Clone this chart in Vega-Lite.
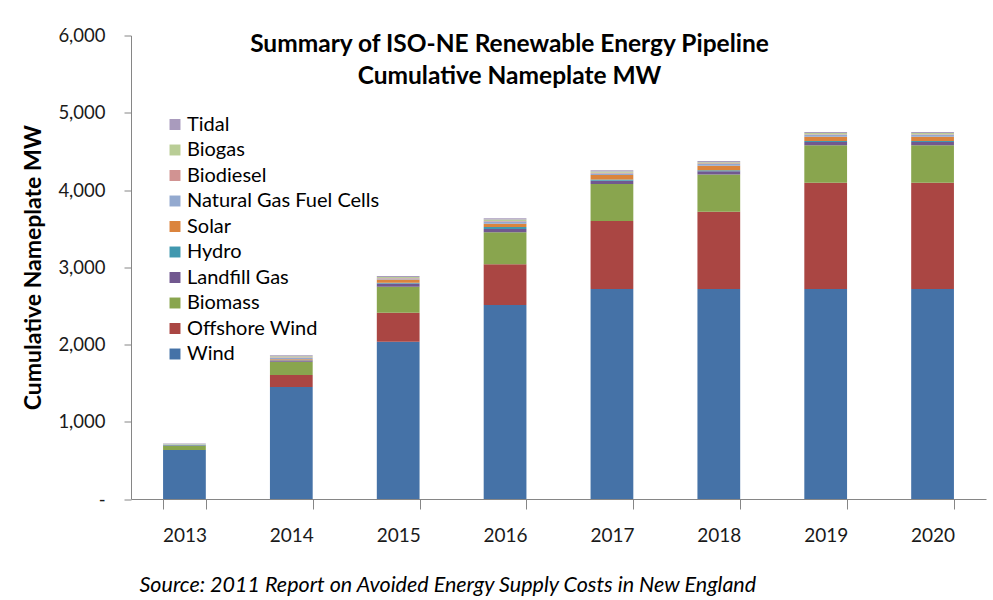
{
  "$schema": "https://vega.github.io/schema/vega-lite/v6.json",
  "width": 855,
  "height": 463.5,
  "autosize": {"type": "none"},
  "padding": {"left": 131, "top": 35.5, "right": 7, "bottom": 101},
  "background": "white",
  "config": {
    "view": {"stroke": null},
    "font": "Lato"
  },
  "title": {
    "text": ["Summary of ISO-NE Renewable Energy Pipeline", "Cumulative Nameplate MW"],
    "font": "Lato",
    "fontSize": 24.5,
    "fontWeight": "bold",
    "color": "#000000",
    "anchor": "middle",
    "frame": "group",
    "baseline": "alphabetic",
    "lineHeight": 32,
    "offset": -82,
    "dx": -49
  },
  "data": {
    "values": [
      {"year": "2013", "source": "Wind", "mw": 634},
      {"year": "2013", "source": "Offshore Wind", "mw": 0},
      {"year": "2013", "source": "Biomass", "mw": 56},
      {"year": "2013", "source": "Landfill Gas", "mw": 5},
      {"year": "2013", "source": "Hydro", "mw": 3},
      {"year": "2013", "source": "Solar", "mw": 2},
      {"year": "2013", "source": "Natural Gas Fuel Cells", "mw": 5},
      {"year": "2013", "source": "Biodiesel", "mw": 2},
      {"year": "2013", "source": "Biogas", "mw": 6},
      {"year": "2013", "source": "Tidal", "mw": 5},
      {"year": "2014", "source": "Wind", "mw": 1450},
      {"year": "2014", "source": "Offshore Wind", "mw": 155},
      {"year": "2014", "source": "Biomass", "mw": 172},
      {"year": "2014", "source": "Landfill Gas", "mw": 15},
      {"year": "2014", "source": "Hydro", "mw": 5},
      {"year": "2014", "source": "Solar", "mw": 13},
      {"year": "2014", "source": "Natural Gas Fuel Cells", "mw": 20},
      {"year": "2014", "source": "Biodiesel", "mw": 5},
      {"year": "2014", "source": "Biogas", "mw": 13},
      {"year": "2014", "source": "Tidal", "mw": 12},
      {"year": "2015", "source": "Wind", "mw": 2036},
      {"year": "2015", "source": "Offshore Wind", "mw": 375},
      {"year": "2015", "source": "Biomass", "mw": 337},
      {"year": "2015", "source": "Landfill Gas", "mw": 43},
      {"year": "2015", "source": "Hydro", "mw": 8},
      {"year": "2015", "source": "Solar", "mw": 43},
      {"year": "2015", "source": "Natural Gas Fuel Cells", "mw": 13},
      {"year": "2015", "source": "Biodiesel", "mw": 6},
      {"year": "2015", "source": "Biogas", "mw": 13},
      {"year": "2015", "source": "Tidal", "mw": 13},
      {"year": "2016", "source": "Wind", "mw": 2511},
      {"year": "2016", "source": "Offshore Wind", "mw": 527},
      {"year": "2016", "source": "Biomass", "mw": 414},
      {"year": "2016", "source": "Landfill Gas", "mw": 43},
      {"year": "2016", "source": "Hydro", "mw": 25},
      {"year": "2016", "source": "Solar", "mw": 43},
      {"year": "2016", "source": "Natural Gas Fuel Cells", "mw": 30},
      {"year": "2016", "source": "Biodiesel", "mw": 7},
      {"year": "2016", "source": "Biogas", "mw": 17},
      {"year": "2016", "source": "Tidal", "mw": 17},
      {"year": "2017", "source": "Wind", "mw": 2718},
      {"year": "2017", "source": "Offshore Wind", "mw": 880},
      {"year": "2017", "source": "Biomass", "mw": 479},
      {"year": "2017", "source": "Landfill Gas", "mw": 43},
      {"year": "2017", "source": "Hydro", "mw": 17},
      {"year": "2017", "source": "Solar", "mw": 56},
      {"year": "2017", "source": "Natural Gas Fuel Cells", "mw": 22},
      {"year": "2017", "source": "Biodiesel", "mw": 8},
      {"year": "2017", "source": "Biogas", "mw": 17},
      {"year": "2017", "source": "Tidal", "mw": 17},
      {"year": "2018", "source": "Wind", "mw": 2718},
      {"year": "2018", "source": "Offshore Wind", "mw": 1000},
      {"year": "2018", "source": "Biomass", "mw": 483},
      {"year": "2018", "source": "Landfill Gas", "mw": 43},
      {"year": "2018", "source": "Hydro", "mw": 13},
      {"year": "2018", "source": "Solar", "mw": 56},
      {"year": "2018", "source": "Natural Gas Fuel Cells", "mw": 25},
      {"year": "2018", "source": "Biodiesel", "mw": 8},
      {"year": "2018", "source": "Biogas", "mw": 14},
      {"year": "2018", "source": "Tidal", "mw": 14},
      {"year": "2019", "source": "Wind", "mw": 2718},
      {"year": "2019", "source": "Offshore Wind", "mw": 1376},
      {"year": "2019", "source": "Biomass", "mw": 484},
      {"year": "2019", "source": "Landfill Gas", "mw": 43},
      {"year": "2019", "source": "Hydro", "mw": 13},
      {"year": "2019", "source": "Solar", "mw": 56},
      {"year": "2019", "source": "Natural Gas Fuel Cells", "mw": 25},
      {"year": "2019", "source": "Biodiesel", "mw": 8},
      {"year": "2019", "source": "Biogas", "mw": 14},
      {"year": "2019", "source": "Tidal", "mw": 14},
      {"year": "2020", "source": "Wind", "mw": 2718},
      {"year": "2020", "source": "Offshore Wind", "mw": 1376},
      {"year": "2020", "source": "Biomass", "mw": 484},
      {"year": "2020", "source": "Landfill Gas", "mw": 43},
      {"year": "2020", "source": "Hydro", "mw": 13},
      {"year": "2020", "source": "Solar", "mw": 56},
      {"year": "2020", "source": "Natural Gas Fuel Cells", "mw": 25},
      {"year": "2020", "source": "Biodiesel", "mw": 8},
      {"year": "2020", "source": "Biogas", "mw": 14},
      {"year": "2020", "source": "Tidal", "mw": 14}
    ]
  },
  "transform": [
    {"calculate": "indexof(['Wind', 'Offshore Wind', 'Biomass', 'Landfill Gas', 'Hydro', 'Solar', 'Natural Gas Fuel Cells', 'Biodiesel', 'Biogas', 'Tidal'], datum.source)", "as": "stackOrder"}
  ],
  "mark": {"type": "bar"},
  "encoding": {
    "x": {
      "field": "year",
      "type": "ordinal",
      "scale": {"paddingInner": 0.6, "paddingOuter": 0.3},
      "axis": {
        "title": "Source: 2011 Report on Avoided Energy Supply Costs in New England",
        "titleFont": "Lato",
        "titleFontSize": 21.5,
        "titleFontStyle": "italic",
        "titleFontWeight": "normal",
        "titleColor": "#000000",
        "titleAnchor": "start",
        "titleAlign": "left",
        "titleBaseline": "alphabetic",
        "titleX": 8,
        "titleY": 92,
        "labelAngle": 0,
        "labelFont": "Lato",
        "labelFontSize": 19,
        "labelColor": "#1a1a1a",
        "labelPadding": 17,
        "tickBand": "extent",
        "tickSize": 10,
        "tickColor": "#868686",
        "domainColor": "#868686",
        "grid": false
      }
    },
    "y": {
      "field": "mw",
      "type": "quantitative",
      "aggregate": "sum",
      "stack": "zero",
      "scale": {"domain": [0, 6000], "nice": false},
      "axis": {
        "title": "Cumulative Nameplate MW",
        "titleFont": "Lato",
        "titleFontSize": 23,
        "titleFontWeight": "bold",
        "titleColor": "#000000",
        "titleX": -98,
        "titleBaseline": "middle",
        "values": [0, 1000, 2000, 3000, 4000, 5000, 6000],
        "labelExpr": "datum.value == 0 ? '-' : format(datum.value, ',')",
        "labelFont": "Lato",
        "labelFontSize": 18.5,
        "labelColor": "#1a1a1a",
        "labelPadding": 19,
        "tickSize": 7,
        "tickColor": "#868686",
        "domainColor": "#868686",
        "grid": false
      }
    },
    "order": {"field": "stackOrder", "type": "quantitative", "sort": "ascending"},
    "color": {
      "field": "source",
      "type": "nominal",
      "scale": {
        "domain": ["Wind", "Offshore Wind", "Biomass", "Landfill Gas", "Hydro", "Solar", "Natural Gas Fuel Cells", "Biodiesel", "Biogas", "Tidal"],
        "range": ["#4572A7", "#AA4643", "#89A54E", "#71588F", "#4198AF", "#DB843D", "#93A9CF", "#D19392", "#B9CD96", "#A99BBD"]
      },
      "legend": {
        "title": null,
        "orient": "none",
        "legendX": 34,
        "legendY": 79,
        "padding": 0,
        "values": ["Tidal", "Biogas", "Biodiesel", "Natural Gas Fuel Cells", "Solar", "Hydro", "Landfill Gas", "Biomass", "Offshore Wind", "Wind"],
        "symbolType": "square",
        "symbolSize": 120,
        "symbolStrokeWidth": 0,
        "labelFont": "Lato",
        "labelFontSize": 20,
        "labelColor": "#000000",
        "labelOffset": 2,
        "rowPadding": 5.5,
        "labelLimit": 400
      }
    }
  }
}
